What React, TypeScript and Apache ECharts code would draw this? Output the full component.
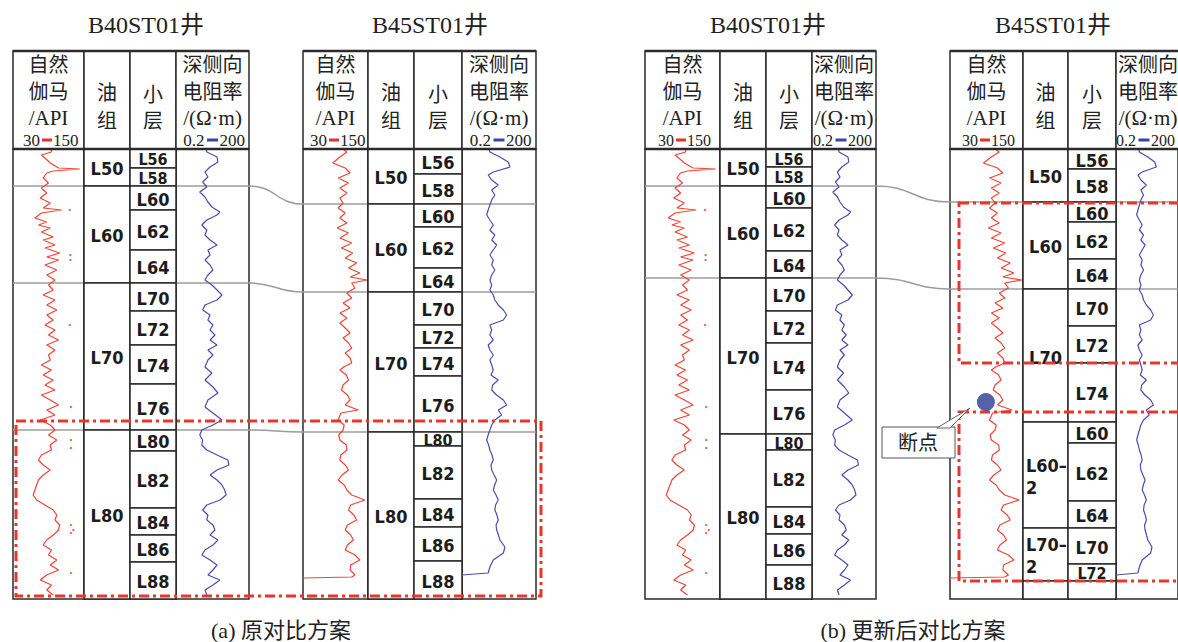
import React, { useEffect, useRef } from "react";
import * as echarts from "echarts";

// ---------------- texts ----------------
const wellTitles = ["B40ST01井", "B45ST01井", "B40ST01井", "B45ST01井"];
const captions = ["(a) 原对比方案", "(b) 更新后对比方案"];
const grHeaderLines = ["自然", "伽马", "/API"];
const groupHeader = ["油", "组"];
const layerHeader = ["小", "层"];
const resHeaderLines = ["深侧向", "电阻率", "/(Ω·m)"];
const grScale = ["30", "150"];
const resScale = ["0.2", "200"];
const breakLabel = "断点";

// ---------------- zonation: [label, top depth, bottom depth, label depth?] ----------------
// depth = relative depth below top of the log (display units)
const groupsA40: any[] = [["L50", 0, 37], ["L60", 37, 134], ["L70", 134, 281], ["L80", 281, 450]];
const layersA40: any[] = [
  ["L56", 0, 19], ["L58", 19, 37], ["L60", 37, 61], ["L62", 61, 101], ["L64", 101, 134],
  ["L70", 134, 162], ["L72", 162, 196], ["L74", 196, 235], ["L76", 235, 281],
  ["L80", 281, 302], ["L82", 302, 359], ["L84", 359, 386], ["L86", 386, 413], ["L88", 413, 450],
];
const groupsA45: any[] = [["L50", 0, 55], ["L60", 55, 143], ["L70", 143, 283], ["L80", 283, 450]];
const layersA45: any[] = [
  ["L56", 0, 25], ["L58", 25, 55], ["L60", 55, 78], ["L62", 78, 119], ["L64", 119, 143],
  ["L70", 143, 176], ["L72", 176, 199], ["L74", 199, 227], ["L76", 227, 283],
  ["L80", 283, 297], ["L82", 297, 350], ["L84", 350, 378], ["L86", 378, 412], ["L88", 412, 450],
];
const groupsB40: any[] = [["L50", 0, 37], ["L60", 37, 129], ["L70", 129, 285], ["L80", 285, 450]];
const layersB40: any[] = [
  ["L56", 0, 18], ["L58", 18, 37], ["L60", 37, 59], ["L62", 59, 102], ["L64", 102, 129],
  ["L70", 129, 162], ["L72", 162, 194], ["L74", 194, 241], ["L76", 241, 285],
  ["L80", 285, 301], ["L82", 301, 358], ["L84", 358, 385], ["L86", 385, 416], ["L88", 416, 450],
];
const groupsB45: any[] = [
  ["L50", 0, 53], ["L60", 53, 140], ["L70", 140, 273, 207],
  ["L60–\n2", 273, 379], ["L70–\n2", 379, 432], ["", 432, 450],
];
const layersB45: any[] = [
  ["L56", 0, 20], ["L58", 20, 53], ["L60", 53, 73], ["L62", 73, 110], ["L64", 110, 140],
  ["L70", 140, 177], ["L72", 177, 214], ["L74", 214, 273],
  ["L60", 273, 294], ["L62", 294, 352], ["L64", 352, 379], ["L70", 379, 415], ["L72", 415, 432], ["", 432, 450],
];

// ---------------- log curves: [value, depth] ----------------
const grB40 = [
  [95, 0], [95, 3], [78, 6], [84, 9], [93, 14], [107, 19], [143, 20], [98, 22], [87, 24], [81, 29], [90, 34],
  [78, 39], [87, 44], [76, 49], [93, 54], [81, 59], [112, 61], [78, 64], [67, 69], [87, 73], [73, 76],
  [93, 79], [78, 83], [98, 88], [81, 91], [101, 96], [84, 99], [109, 104], [87, 108], [107, 111], [84, 116],
  [104, 121], [87, 126], [101, 131], [90, 136], [98, 141], [81, 146], [101, 151], [87, 156], [104, 161],
  [87, 166], [98, 171], [84, 176], [101, 181], [90, 186], [107, 191], [87, 196], [101, 201], [90, 206],
  [93, 211], [78, 216], [95, 221], [81, 226], [98, 231], [84, 236], [101, 241], [78, 246], [93, 251],
  [107, 256], [87, 261], [101, 266], [76, 271], [93, 276], [101, 281], [90, 286], [104, 291], [93, 296],
  [95, 301], [78, 306], [73, 311], [81, 316], [93, 321], [81, 326], [73, 331], [70, 336], [67, 341],
  [64, 346], [70, 351], [84, 356], [98, 361], [104, 366], [101, 371], [109, 376], [107, 381], [98, 386],
  [87, 391], [81, 396], [95, 401], [90, 406], [104, 411], [93, 416], [107, 421], [87, 426], [76, 431],
  [95, 436], [87, 441], [98, 446],
];
const grDotsB40 = [
  [126, 61], [127, 106], [127, 111], [126, 176], [128, 258], [128, 291], [128, 299],
  [128, 376], [132, 381], [128, 384], [128, 424],
];
const resB40 = [
  [3.5, 0], [3.7, 3], [9.7, 8], [10.6, 13], [5.0, 18], [3.1, 23], [4.1, 28], [2.5, 33], [3.7, 38], [1.9, 43],
  [3.1, 48], [4.1, 53], [6.0, 58], [12.8, 63], [9.7, 66], [3.7, 71], [2.3, 76], [3.7, 81], [3.1, 86],
  [5.0, 91], [9.7, 96], [4.1, 101], [5.0, 106], [3.1, 111], [5.0, 116], [6.6, 121], [4.1, 126], [3.1, 131],
  [6.0, 136], [9.7, 141], [15.5, 146], [9.7, 151], [3.1, 156], [2.5, 161], [5.0, 166], [4.1, 171],
  [6.6, 176], [5.0, 181], [8.0, 186], [5.0, 191], [9.7, 196], [4.1, 201], [6.6, 206], [4.1, 211],
  [3.1, 218], [6.0, 224], [3.1, 231], [6.6, 238], [10.6, 244], [4.1, 251], [3.1, 258], [6.6, 264],
  [15.5, 271], [6.6, 276], [2.3, 281], [1.9, 286], [2.5, 291], [2.3, 296], [3.7, 301], [9.7, 306],
  [27, 311], [30, 316], [9.7, 321], [5.0, 326], [9.7, 331], [15.5, 336], [20, 341], [23, 346], [12.8, 351],
  [3.7, 356], [2.5, 361], [4.1, 366], [3.7, 371], [6.6, 376], [8.0, 381], [5.0, 386], [10.6, 391],
  [6.6, 396], [3.1, 401], [2.3, 406], [5.0, 411], [9.7, 416], [6.6, 421], [4.1, 426], [12.8, 431],
  [6.6, 436], [3.1, 441], [3.7, 446],
];
const grB45 = [
  [104, 0], [111, 3], [98, 8], [85, 14], [108, 19], [117, 24], [95, 29], [114, 34], [98, 39], [111, 44],
  [98, 49], [104, 54], [95, 59], [108, 64], [98, 69], [111, 74], [93, 79], [114, 84], [98, 89], [120, 94],
  [101, 99], [122, 104], [108, 109], [129, 114], [114, 119], [135, 124], [117, 128], [148, 131], [120, 134],
  [126, 139], [111, 144], [120, 149], [104, 154], [117, 159], [98, 164], [111, 169], [98, 174], [108, 179],
  [117, 184], [104, 189], [114, 194], [120, 199], [108, 204], [117, 209], [120, 214], [105, 218], [98, 221],
  [110, 226], [114, 231], [104, 236], [101, 241], [112, 246], [117, 251], [108, 256], [132, 261], [100, 264],
  [95, 271], [106, 276], [104, 281], [96, 286], [98, 291], [110, 296], [111, 301], [100, 306], [98, 311],
  [108, 316], [114, 321], [102, 326], [95, 331], [106, 336], [111, 341], [120, 346], [144, 351], [118, 356],
  [114, 361], [124, 366], [129, 371], [112, 376], [108, 381], [118, 386], [123, 391], [112, 396], [108, 401],
  [126, 406], [135, 411], [118, 416], [117, 421], [126, 426], [120, 428], [30, 429],
];
const resB45 = [
  [2.5, 0], [2.7, 3], [6.9, 8], [15, 13], [17.7, 18], [3.7, 23], [2.3, 26], [3.2, 31], [5.9, 36], [3.2, 41],
  [4.3, 46], [3.2, 51], [2.7, 56], [2.3, 61], [2.0, 66], [2.7, 71], [3.7, 76], [2.7, 81], [4.3, 86],
  [3.2, 91], [5.1, 96], [3.7, 101], [2.7, 106], [3.7, 111], [3.2, 116], [4.3, 121], [3.2, 126], [2.7, 131],
  [3.2, 136], [2.7, 141], [3.7, 146], [4.3, 151], [5.9, 156], [9.5, 161], [12.9, 166], [9.5, 171],
  [2.7, 176], [3.2, 181], [2.7, 186], [3.7, 191], [2.3, 196], [2.7, 201], [3.7, 206], [2.7, 211],
  [3.2, 216], [3.7, 221], [3.0, 226], [5.9, 231], [3.5, 236], [3.2, 241], [5.0, 246], [9.5, 251],
  [12.9, 256], [5.9, 261], [8.1, 266], [4.3, 271], [3.2, 276], [2.7, 281], [2.3, 286], [2.0, 291],
  [2.4, 296], [2.7, 301], [3.3, 306], [3.7, 311], [3.0, 316], [3.2, 321], [4.0, 326], [5.1, 331],
  [4.2, 336], [3.7, 341], [4.8, 346], [5.9, 351], [4.6, 356], [4.3, 361], [5.2, 366], [5.9, 371],
  [4.8, 376], [5.1, 381], [6.0, 386], [6.9, 391], [11, 398], [9.5, 404], [3.7, 411], [2.7, 418],
  [2.3, 424], [0.2, 426],
];

// ---------------- correlation lines [B40 depth, B45 depth] and highlighted intervals ----------------
const corrA = [[37, 55], [134, 143], [281, 283]];
const corrB = [[37, 53], [129, 140]];
const boxesA = [[272, 447]];
const boxesB = [[54, 214], [263, 432]];
const breakPoint = [[89, 253]]; // [GR, depth] on B45ST01 in panel (b)

// ---------------- layout ----------------
const HEAD_TOP = 51;
const BODY_TOP = 149;
const BODY_H = 450;
const DEPTH_MAX = 450;
const wells = [
  { cols: [13, 84, 130, 176, 249], titleX: 146, scaleShift: 0, scaleSize: 17, groups: groupsA40, layers: layersA40, gr: grB40, res: resB40, dots: grDotsB40 },
  { cols: [303, 368, 414, 462, 536], titleX: 430, scaleShift: 0, scaleSize: 17, groups: groupsA45, layers: layersA45, gr: grB45, res: resB45, dots: [] as number[][] },
  { cols: [645, 720, 766, 812, 876], titleX: 768, scaleShift: -3, scaleSize: 16, groups: groupsB40, layers: layersB40, gr: grB40, res: resB40, dots: grDotsB40 },
  { cols: [950, 1023, 1068, 1116, 1180], titleX: 1053, scaleShift: -4, scaleSize: 16, groups: groupsB45, layers: layersB45, gr: grB45, res: resB45, dots: [] as number[][] },
];
const boxXA = [16, 541];
const boxXB = [959, 1200];
const captionX = [281, 913];

const SERIF = "Liberation Serif, Times New Roman, Noto Sans CJK SC, serif";
const NARROW = "Liberation Sans Narrow, DejaVu Sans Condensed, Roboto Condensed, sans-serif";
const INK = "#222";
const GR_COLOR = "#ee4536";
const RES_COLOR = "#4c4cae";
const RED_DASH = "#e8362a";

function txt(text: string, x: number, y: number, size: number, align = "center", z = 20) {
  return {
    type: "text", x, y, z, silent: true,
    style: {
      text, fontSize: size, fontFamily: SERIF, fill: INK,
      align, verticalAlign: "middle", textAlign: align, textVerticalAlign: "middle",
    },
  };
}

function zoneSeries(zones: any[], gi: number) {
  return {
    type: "custom", xAxisIndex: gi, yAxisIndex: gi, z: 2, silent: true,
    data: zones.map((z) => [z[1], z[2]]),
    renderItem: (params: any, api: any) => {
      const z = zones[params.dataIndex];
      const p0 = api.coord([0, api.value(0)]);
      const p1 = api.coord([1, api.value(1)]);
      const label: string = z[0];
      const multi = label.indexOf("\n") >= 0;
      const h = p1[1] - p0[1];
      const size = h < 20 ? 16 : 18;
      const ly = z[3] != null ? api.coord([0, z[3]])[1] : (p0[1] + p1[1]) / 2;
      return {
        type: "group",
        children: [
          { type: "rect", shape: { x: p0[0], y: p0[1], width: p1[0] - p0[0], height: h },
            style: { fill: "#fff", stroke: "#2b2b2b", lineWidth: 1.5 } },
          { type: "text", x: multi ? p0[0] + 3 : (p0[0] + p1[0]) / 2, y: ly + 1,
            style: { text: label, fontSize: size, fontWeight: "bold", fontFamily: NARROW, fill: "#1c1c1c",
              align: multi ? "left" : "center", verticalAlign: "middle",
              textAlign: multi ? "left" : "center", textVerticalAlign: "middle", lineHeight: 22 } },
        ],
      };
    },
  };
}

function corrSeries(pairs: number[][], a: number[], b: number[], ov: number) {
  return {
    type: "custom", xAxisIndex: ov, yAxisIndex: ov, z: 1, silent: true, data: pairs,
    renderItem: (_p: any, api: any) => {
      const ya = api.coord([0, api.value(0)])[1];
      const yb = api.coord([0, api.value(1)])[1];
      const xa0 = api.coord([a[0], 0])[0], xa1 = api.coord([a[4], 0])[0];
      const xb0 = api.coord([b[0], 0])[0], xb1 = api.coord([b[4], 0])[0];
      const mid = (xa1 + xb0) / 2;
      const st = { stroke: "#9c9c9c", lineWidth: 1.5, fill: "none" };
      return {
        type: "group",
        children: [
          { type: "polyline", shape: { points: [[xa0, ya], [xa1, ya]] }, style: st },
          { type: "bezierCurve", shape: { x1: xa1, y1: ya, cpx1: mid, cpy1: ya, cpx2: mid, cpy2: yb, x2: xb0, y2: yb }, style: st },
          { type: "polyline", shape: { points: [[xb0, yb], [xb1, yb]] }, style: st },
        ],
      };
    },
  };
}

function boxSeries(boxes: number[][], xr: number[], ov: number) {
  return {
    type: "custom", xAxisIndex: ov, yAxisIndex: ov, z: 6, silent: true, data: boxes,
    renderItem: (_p: any, api: any) => {
      const p0 = api.coord([xr[0], api.value(0)]);
      const p1 = api.coord([xr[1], api.value(1)]);
      return {
        type: "rect",
        shape: { x: p0[0], y: p0[1], width: p1[0] - p0[0], height: p1[1] - p0[1] },
        style: { fill: "none", stroke: RED_DASH, lineWidth: 3, lineDash: [10, 4, 3, 4] },
      };
    },
  };
}

function buildOption() {
  const grid: any[] = [], xAxis: any[] = [], yAxis: any[] = [], series: any[] = [], graphic: any[] = [];
  wells.forEach((w, wi) => {
    for (let k = 0; k < 4; k++) {
      const gi = wi * 4 + k;
      grid.push({ left: w.cols[k], top: BODY_TOP, width: w.cols[k + 1] - w.cols[k], height: BODY_H,
        show: true, borderColor: "#2b2b2b", borderWidth: 1.5, backgroundColor: "rgba(0,0,0,0)" });
      if (k === 0) xAxis.push({ type: "value", gridIndex: gi, min: 30, max: 150, show: false });
      else if (k === 3) xAxis.push({ type: "log", logBase: 10, gridIndex: gi, min: 0.2, max: 200, show: false });
      else xAxis.push({ type: "value", gridIndex: gi, min: 0, max: 1, show: false });
      yAxis.push({ type: "value", gridIndex: gi, min: 0, max: DEPTH_MAX, inverse: true, show: false });
    }
    const g0 = wi * 4;
    series.push({ type: "line", xAxisIndex: g0, yAxisIndex: g0, data: w.gr, symbol: "none", z: 3, silent: true,
      lineStyle: { color: GR_COLOR, width: 1.2 } });
    if (w.dots.length) {
      series.push({ type: "scatter", xAxisIndex: g0, yAxisIndex: g0, data: w.dots, symbolSize: 2.5, z: 3, silent: true,
        itemStyle: { color: GR_COLOR } });
    }
    series.push(zoneSeries(w.groups, g0 + 1));
    series.push(zoneSeries(w.layers, g0 + 2));
    series.push({ type: "line", xAxisIndex: g0 + 3, yAxisIndex: g0 + 3, data: w.res, symbol: "none", z: 3, silent: true,
      lineStyle: { color: RES_COLOR, width: 1.2 } });

    // header
    const c = w.cols;
    for (let k = 0; k < 4; k++) {
      graphic.push({ type: "rect", z: 15, silent: true,
        shape: { x: c[k], y: HEAD_TOP, width: c[k + 1] - c[k], height: BODY_TOP - HEAD_TOP },
        style: { fill: "#fff", stroke: "#2b2b2b", lineWidth: 1.5 } });
    }
    graphic.push({ type: "line", z: 16, silent: true, shape: { x1: c[0], y1: HEAD_TOP, x2: c[4], y2: HEAD_TOP },
      style: { stroke: "#2b2b2b", lineWidth: 2.4 } });
    graphic.push({ type: "line", z: 16, silent: true, shape: { x1: c[0], y1: BODY_TOP, x2: c[4], y2: BODY_TOP },
      style: { stroke: "#2b2b2b", lineWidth: 2.4 } });
    const cx = [(c[0] + c[1]) / 2, (c[1] + c[2]) / 2, (c[2] + c[3]) / 2, (c[3] + c[4]) / 2];
    const rowsY = [65, 92, 118];
    grHeaderLines.forEach((t, i) => graphic.push(txt(t, cx[0], rowsY[i], i === 2 ? 21 : 20)));
    resHeaderLines.forEach((t, i) => graphic.push(txt(t, cx[3], rowsY[i], i === 2 ? 21 : 20)));
    graphic.push(txt(groupHeader[0], cx[1], 93, 20));
    graphic.push(txt(groupHeader[1], cx[1], 121, 20));
    graphic.push(txt(layerHeader[0], cx[2], 95, 20));
    graphic.push(txt(layerHeader[1], cx[2], 121, 20));
    // scale rows
    const sy = 140;
    const ss = w.scaleSize;
    graphic.push({ type: "rect", z: 20, silent: true, shape: { x: cx[0] - 6.5, y: sy - 1.5, width: 10, height: 3 }, style: { fill: "#e8302a" } });
    graphic.push(txt(grScale[0], cx[0] - 8.5, sy, ss, "right"));
    graphic.push(txt(grScale[1], cx[0] + 4.5, sy, ss, "left"));
    const rc = cx[3] + w.scaleShift;
    graphic.push({ type: "rect", z: 20, silent: true, shape: { x: rc - 5.5, y: sy - 1.5, width: 11, height: 3 }, style: { fill: "#3a44a8" } });
    graphic.push(txt(resScale[0], rc - 8, sy, ss, "right"));
    graphic.push(txt(resScale[1], rc + 7, sy, ss, "left"));
    // title
    graphic.push(txt(wellTitles[wi], w.titleX, 25, 24));
  });

  // overlay grid (pixel-wide x scale, shared depth scale)
  const ov = grid.length;
  grid.push({ left: 0, top: BODY_TOP, width: 1178, height: BODY_H, show: false });
  xAxis.push({ type: "value", gridIndex: ov, min: 0, max: 1178, show: false });
  yAxis.push({ type: "value", gridIndex: ov, min: 0, max: DEPTH_MAX, inverse: true, show: false });
  series.push(corrSeries(corrA, wells[0].cols, wells[1].cols, ov));
  series.push(corrSeries(corrB, wells[2].cols, wells[3].cols, ov));
  series.push(boxSeries(boxesA, boxXA, ov));
  series.push(boxSeries(boxesB, boxXB, ov));

  // break point on B45ST01 (b)
  series.push({ type: "scatter", xAxisIndex: 12, yAxisIndex: 12, data: breakPoint, symbol: "circle", symbolSize: 18, z: 9,
    silent: true, itemStyle: { color: "#2d3a92" } });

  // callout
  graphic.push({ type: "rect", z: 21, silent: true, shape: { x: 882, y: 427, width: 73, height: 31 },
    style: { fill: "#fff", stroke: "#555", lineWidth: 1 } });
  graphic.push({ type: "polygon", z: 22, silent: true, shape: { points: [[937, 428], [970, 408], [950, 428]] },
    style: { fill: "#fff", stroke: "#666", lineWidth: 1 } });
  graphic.push(txt(breakLabel, 918, 443, 20, "center", 25));

  // captions
  captions.forEach((t, i) => graphic.push(txt(t, captionX[i], 630, 22)));

  return { animation: false, backgroundColor: "#fff", grid, xAxis, yAxis, series, graphic };
}

export default function App() {
  const ref = useRef<HTMLDivElement>(null);
  useEffect(() => {
    const chart = echarts.init(ref.current!, null, { renderer: "svg" });
    chart.setOption(buildOption() as any);
    return () => chart.dispose();
  }, []);
  return (
    <div
      ref={ref}
      style={{ position: "absolute", left: 0, top: 0, width: 1178, height: 642, background: "#fff" }}
    />
  );
}
